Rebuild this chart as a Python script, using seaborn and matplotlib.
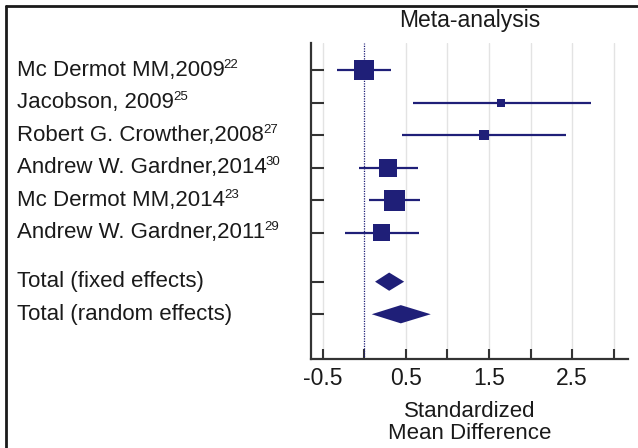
import numpy as np
import pandas as pd
import matplotlib
matplotlib.use("Agg")
import matplotlib.pyplot as plt
from matplotlib.lines import Line2D
from matplotlib.transforms import blended_transform_factory
import seaborn as sns

# study data
studies = ["Mc Dermot MM,2009", "Jacobson, 2009", "Robert G. Crowther,2008",
           "Andrew W. Gardner,2014", "Mc Dermot MM,2014", "Andrew W. Gardner,2011"]
refs = ["22", "25", "27", "30", "23", "29"]
smd = [0.00, 1.65, 1.44, 0.29, 0.36, 0.21]
ci_low = [-0.33, 0.59, 0.45, -0.06, 0.06, -0.23]
ci_high = [0.32, 2.73, 2.43, 0.65, 0.67, 0.66]
weights = [24.7, 4.0, 6.2, 20.0, 27.3, 17.9]

totals = ["Total (fixed effects)", "Total (random effects)"]
tot_est = [0.30, 0.44]
tot_low = [0.13, 0.09]
tot_high = [0.48, 0.80]

xticks = [-0.5, 0, 0.5, 1, 1.5, 2, 2.5, 3]
xlabels = ["-0.5", "", "0.5", "", "1.5", "", "2.5", ""]

navy = "#1f1f78"
fs = 16

sns.set_style("white")
plt.rcParams["font.family"] = ["Liberation Sans", "DejaVu Sans"]

fig = plt.figure(figsize=(6.38, 4.48), dpi=100)
ax = fig.add_axes([0.4875, 0.199, 0.4965, 0.705])

study_rows = list(range(len(studies)))
total_rows = [6.5, 7.5]

df = pd.DataFrame({"smd": smd, "row": study_rows, "w": weights})

# grid and zero line
for xt in xticks:
    if xt == 0:
        ax.axvline(xt, color=navy, lw=0.9, ls=(0, (1, 1)), zorder=1)
    else:
        ax.axvline(xt, color="#e3e3e3", lw=1.0, zorder=0)

ax.hlines(study_rows, ci_low, ci_high, color=navy, lw=1.6, zorder=2)

side_px = 4.02 * np.sqrt(df["w"])
sizes = (side_px * 0.72) ** 2
ax.scatter(df["smd"], df["row"], s=sizes, marker="s", color=navy,
           edgecolor=navy, linewidth=0, zorder=3)

for r, lo, est, hi in zip(total_rows, tot_low, tot_est, tot_high):
    h = 0.28
    ax.fill([lo, est, hi, est], [r, r - h, r, r + h], color=navy, lw=0, zorder=3)

ax.set_xlim(-0.64, 3.17)
ax.set_ylim(8.87, -0.83)
ax.set_xticks(xticks)
ax.set_xticklabels(xlabels, fontsize=16.5)
ax.set_yticks(study_rows + total_rows)
ax.set_yticklabels([])

ax.tick_params(axis="x", direction="in", length=7, width=1.5, color="#333333",
               pad=6, labelcolor="#1a1a1a", bottom=True)
ax.tick_params(axis="y", direction="in", length=9, width=1.5, color="#333333", left=True)

sns.despine(ax=ax, top=True, right=True)
for s in ["left", "bottom"]:
    ax.spines[s].set_color("#333333")
    ax.spines[s].set_linewidth(1.6)

ax.set_xlabel("Standardized\nMean Difference", fontsize=fs, color="#1a1a1a",
              linespacing=1.05, labelpad=8)

trans = blended_transform_factory(fig.transFigure, ax.transData)
renderer = fig.canvas.get_renderer()
for name, ref, r in zip(studies, refs, study_rows):
    t = ax.text(17 / 638, r, name, transform=trans, fontsize=fs,
                ha="left", va="center", color="#1a1a1a")
    bb = t.get_window_extent(renderer)
    fig.text((bb.x1 - 1) / 638, (bb.y1 + 1) / 448, ref, fontsize=9.5,
             ha="left", va="top", color="#1a1a1a")
for name, r in zip(totals, total_rows):
    ax.text(17 / 638, r, name, transform=trans, fontsize=fs,
            ha="left", va="center", color="#1a1a1a")

fig.text(470 / 638, 1 - 20 / 448, "Meta-analysis", fontsize=16.5, ha="center",
         va="center", color="#1a1a1a")

# frame lines on top and left edge of the figure
fig.add_artist(Line2D([6 / 638, 1], [1 - 6 / 448] * 2, transform=fig.transFigure,
                      color="#1a1a1a", lw=2))
fig.add_artist(Line2D([6 / 638] * 2, [0, 1 - 6 / 448], transform=fig.transFigure,
                      color="#1a1a1a", lw=2))

fig.savefig("out.png", dpi=100)
